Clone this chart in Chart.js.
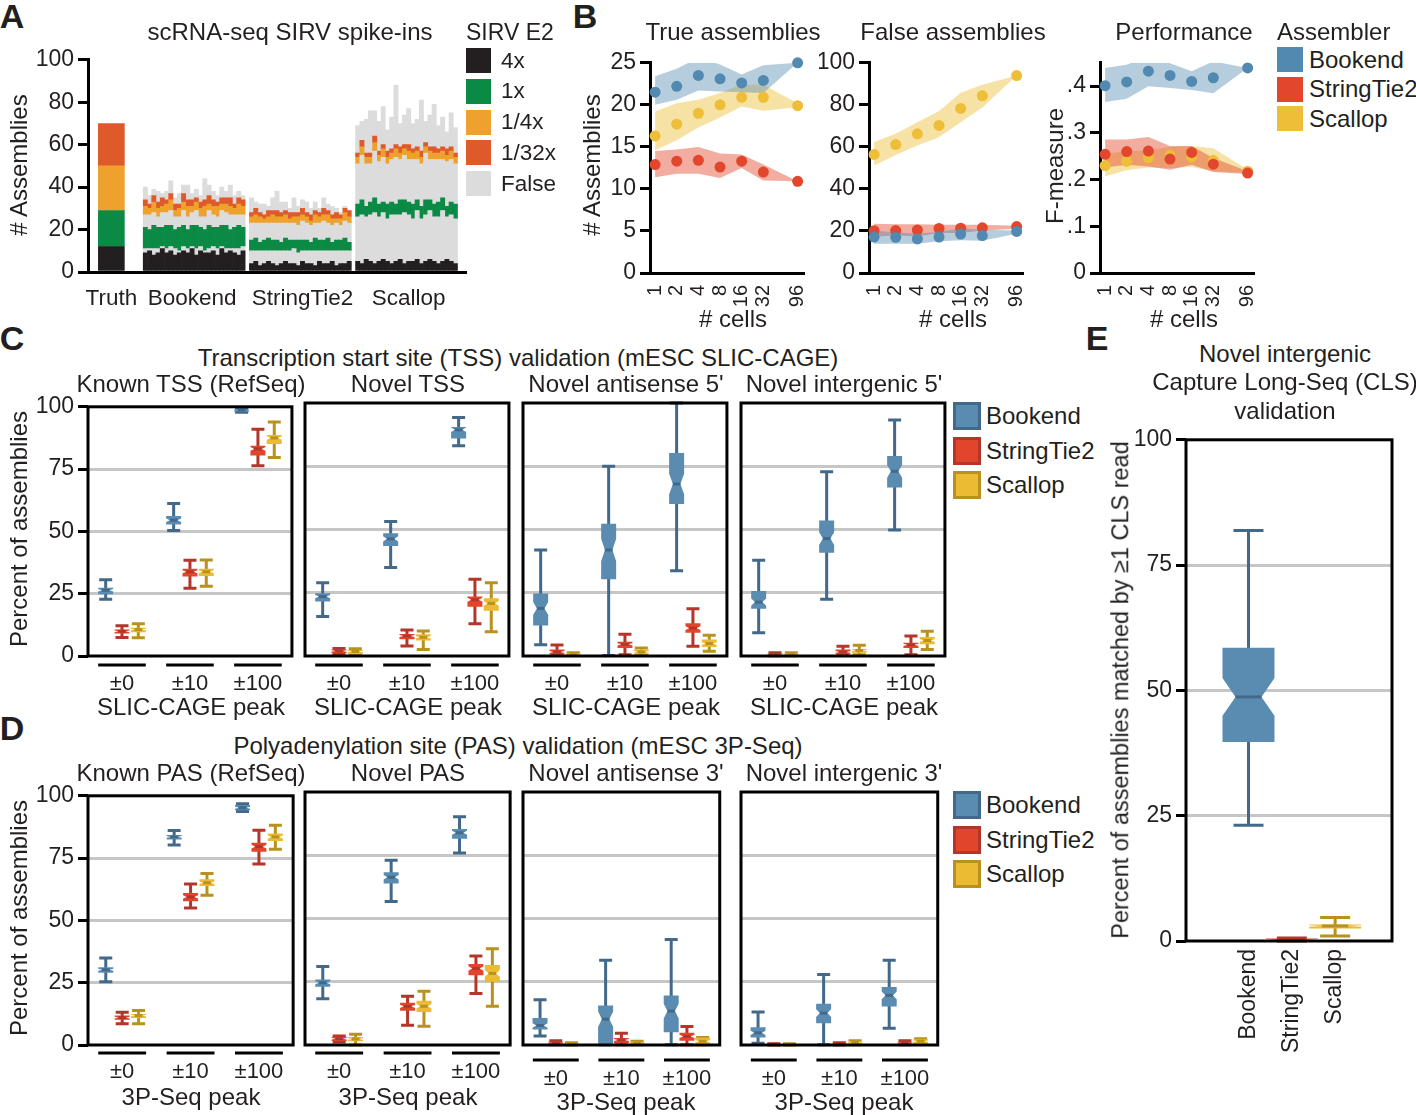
<!DOCTYPE html>
<html>
<head>
<meta charset="utf-8">
<script src="https://cdn.jsdelivr.net/npm/chart.js@4.4.1/dist/chart.umd.min.js"></script>
<style>
  body { margin: 0; background: #fff; }
  #fig { position: relative; width: 1416px; height: 1115px; overflow: hidden;
         font-family: 'Liberation Sans', Arial, sans-serif; color: #231f20; }
  #fig canvas { position: absolute; }
  .t { position: absolute; white-space: nowrap; font-size: 24px; line-height: 1; transform: translate(-50%, -50%); }
  .l { transform: translate(0, -50%); }
  .v { transform: translate(-50%, -50%) rotate(-90deg); }
  .b { font-weight: bold; }
  .sw { position: absolute; box-sizing: border-box; }
</style>
</head>
<body>
<div id="fig"></div>
<script>
// ---------- data ----------
const assemblers = ['Bookend', 'StringTie2', 'Scallop'];

// A: SIRV E2 truth set and per-cell assemblies
const sirvLevels = ['4x', '1x', '1/4x', '1/32x', 'False'];
const truthCounts = [12, 17, 21, 20];
// rows (bottom to top): 4x, False, 1x, False, 1/4x, 1/32x, False
const stackOrder = ['4x', 'False', '1x', 'False', '1/4x', '1/32x', 'False'];
const bookendCells = [
  [9,10,8,9,11,9,10,8,9,10,9,11,8,10,9,9,10,8,11,9,10,9,8,10],
  [2,1,3,2,1,2,2,3,1,2,2,1,3,2,1,2,2,3,1,2,1,2,3,2],
  [10,9,11,10,9,11,10,9,11,10,9,10,11,9,10,11,9,10,10,11,9,10,11,9],
  [6,7,6,5,7,6,7,6,5,7,6,6,7,5,6,7,6,5,7,6,7,6,5,6],
  [4,3,5,4,3,4,5,3,4,4,5,3,4,4,5,3,4,5,3,4,4,3,5,4],
  [3,2,3,3,4,2,3,3,2,4,3,3,2,3,3,4,3,2,3,3,4,2,3,3],
  [6,4,3,5,2,4,6,3,5,4,7,3,4,3,10,5,4,3,5,3,6,4,3,2]
];
const stringtieCells = [
  [4,5,3,4,5,4,3,4,5,4,4,3,5,4,4,3,5,4,4,5,3,4,4,5],
  [6,5,7,6,5,6,7,6,5,6,7,6,5,6,6,7,5,6,6,5,7,6,6,5],
  [5,6,4,5,6,5,5,4,6,5,4,6,5,5,4,6,5,5,6,4,5,5,6,4],
  [8,7,9,8,7,8,8,9,7,8,8,7,9,8,8,7,8,9,7,8,8,7,8,9],
  [3,4,3,2,3,4,3,3,4,2,3,4,3,3,2,4,3,3,4,3,2,3,4,3],
  [2,3,2,2,3,2,3,2,2,3,2,2,3,2,3,2,2,3,2,2,3,2,2,3],
  [7,3,4,5,2,6,9,5,4,2,7,3,4,5,3,4,2,5,3,4,2,1,1,0]
];
const scallopCells = [
  [5,4,6,5,4,5,6,5,4,5,6,4,5,5,6,4,5,6,5,4,5,6,5,4],
  [21,23,20,22,24,21,22,20,23,22,21,24,22,20,23,21,22,23,21,22,24,20,22,21],
  [6,7,5,6,7,6,5,7,6,5,7,6,6,7,5,6,7,5,6,7,6,5,6,7],
  [19,21,20,18,22,20,21,19,20,22,19,21,20,21,19,20,22,19,21,20,18,21,20,19],
  [3,4,3,3,4,3,4,3,3,4,3,3,4,3,4,3,3,4,3,3,4,3,4,3],
  [2,3,2,2,3,2,2,3,2,2,3,2,3,2,2,3,2,2,3,2,2,3,2,2],
  [13,9,16,20,12,14,18,10,15,28,11,14,17,12,13,24,10,15,20,11,14,8,16,12]
];

// B: mean and band per assembler (Bookend, StringTie2, Scallop)
const cellCounts = [1, 2, 4, 8, 16, 32, 96];
const trueMean = [
  [21.5, 22.2, 23.5, 23.1, 22.6, 22.9, 25.0],
  [12.9, 13.3, 13.4, 12.6, 13.3, 12.0, 10.9],
  [16.3, 17.7, 19.0, 20.0, 20.9, 20.9, 19.9]
];
const trueLow = [
  [20.0, 20.6, 21.7, 21.6, 21.5, 21.4, 25.0],
  [11.4, 11.8, 11.8, 11.3, 12.5, 11.0, 10.9],
  [14.6, 15.8, 17.3, 18.5, 19.8, 19.3, 19.7]
];
const trueHigh = [
  [23.4, 24.3, 25.6, 24.8, 23.6, 24.7, 25.0],
  [14.5, 14.7, 15.0, 14.2, 14.1, 12.9, 10.9],
  [19.2, 20.2, 20.6, 21.4, 22.4, 22.4, 20.2]
];
const falseMean = [
  [17.1, 17.0, 16.2, 17.1, 18.5, 17.8, 19.8],
  [20.1, 20.2, 20.4, 21.2, 21.3, 21.5, 22.1],
  [56.4, 61.1, 66.2, 70.2, 78.3, 84.3, 93.9]
];
const falseLow = [
  [13.9, 13.9, 13.9, 15.1, 15.6, 15.3, 18.7],
  [17.1, 17.9, 17.4, 19.0, 19.0, 20.2, 21.0],
  [51.1, 56.1, 60.7, 64.6, 71.7, 78.7, 93.9]
];
const falseHigh = [
  [20.2, 19.3, 18.7, 19.6, 21.2, 20.6, 20.2],
  [23.4, 23.2, 23.2, 23.0, 23.0, 23.0, 22.5],
  [62.3, 66.2, 71.7, 77.1, 85.7, 89.6, 93.9]
];
const perfMean = [
  [0.401, 0.409, 0.432, 0.423, 0.410, 0.418, 0.439],
  [0.254, 0.260, 0.261, 0.244, 0.258, 0.233, 0.214],
  [0.230, 0.239, 0.247, 0.252, 0.248, 0.241, 0.218]
];
const perfLow = [
  [0.366, 0.373, 0.400, 0.396, 0.392, 0.385, 0.439],
  [0.226, 0.232, 0.228, 0.221, 0.232, 0.216, 0.212],
  [0.207, 0.220, 0.226, 0.225, 0.227, 0.218, 0.214]
];
const perfHigh = [
  [0.439, 0.446, 0.465, 0.449, 0.432, 0.453, 0.439],
  [0.286, 0.286, 0.291, 0.272, 0.272, 0.246, 0.218],
  [0.256, 0.260, 0.263, 0.270, 0.272, 0.267, 0.221]
];
const trueTicks = [0, 5, 10, 15, 20, 25];
const falseTicks = [0, 20, 40, 60, 80, 100];
const perfTicks = [0, 0.1, 0.2, 0.3, 0.4];

// C, D, E: boxes [min, q1, median, q3, max] per assembler, per peak window
const peakWindows = ['±0', '±10', '±100'];
const pctTicks = [0, 25, 50, 75, 100];
const tssKnown = [
  [[22.8, 24.8, 26.4, 27.4, 30.6], [50.4, 52.8, 54.5, 56.2, 61.2], [97.8, 98.0, 98.7, 99.1, 99.2]],
  [[7.4, 9.0, 9.9, 10.6, 12.1], [27.2, 31.9, 33.8, 35.0, 38.4], [76.3, 80.5, 83.1, 84.4, 91.0]],
  [[7.3, 9.5, 10.6, 11.3, 12.9], [28.0, 32.1, 33.8, 35.0, 38.5], [79.7, 85.1, 87.5, 88.7, 93.9]]
];
const tssNovel = [
  [[15.6, 21.5, 23.5, 24.8, 29.0], [35.0, 43.5, 46.3, 48.5, 53.2], [83.1, 86.0, 89.4, 90.5, 94.3]],
  [[0.8, 1.1, 2.0, 2.6, 3.0], [4.0, 6.6, 7.9, 8.7, 10.3], [12.7, 19.5, 22.2, 23.5, 30.3]],
  [[0.4, 0.8, 1.8, 2.4, 2.9], [2.6, 6.1, 7.4, 8.6, 9.9], [9.6, 17.9, 20.8, 22.8, 29.0]]
];
const tssAntisense = [
  [[4.4, 12.1, 18.8, 24.7, 41.9], [0.2, 30.3, 41.9, 52.3, 75.0], [33.7, 60.1, 68.0, 80.2, 100]],
  [[0.5, 0.7, 1.6, 2.6, 4.3], [0.5, 3.2, 4.6, 5.6, 8.6], [3.9, 9.2, 11.0, 12.9, 18.7]],
  [[0.2, 0.3, 0.7, 1.1, 1.3], [0.3, 0.9, 1.6, 2.6, 3.2], [1.9, 3.6, 4.9, 6.5, 8.2]]
];
const tssIntergenic = [
  [[9.2, 18.7, 21.3, 25.7, 37.8], [22.4, 40.8, 46.4, 53.6, 72.8], [49.8, 66.6, 73.0, 79.1, 93.3]],
  [[0.1, 0.2, 0.6, 1.0, 1.3], [0.5, 0.9, 1.6, 2.6, 3.9], [0.5, 3.2, 4.4, 5.2, 7.9]],
  [[0.1, 0.2, 0.6, 1.0, 1.3], [0.5, 1.3, 2.2, 2.8, 4.2], [2.6, 4.6, 6.1, 7.5, 9.8]]
];
const pasKnown = [
  [[25.4, 29.0, 30.2, 31.2, 34.9], [80.3, 82.5, 83.5, 84.3, 86.1], [93.7, 94.2, 95.2, 96.3, 96.8]],
  [[8.5, 10.1, 11.0, 11.8, 13.1], [55.0, 57.7, 59.4, 61.0, 64.6], [72.6, 77.5, 79.6, 81.2, 86.2]],
  [[8.5, 10.8, 11.8, 12.4, 13.8], [60.1, 63.8, 65.1, 66.5, 68.8], [78.6, 81.9, 83.5, 84.9, 88.2]]
];
const pasNovel = [
  [[18.3, 23.0, 24.6, 25.9, 31.0], [56.7, 63.8, 66.3, 68.3, 73.0], [75.9, 81.5, 83.9, 85.4, 90.2]],
  [[1.2, 1.6, 2.5, 3.3, 3.6], [7.8, 13.5, 15.3, 16.7, 19.3], [20.4, 27.6, 30.2, 32.0, 35.2]],
  [[0.0, 1.5, 2.4, 3.2, 4.2], [7.4, 13.0, 15.3, 17.5, 21.2], [15.3, 25.0, 28.3, 31.6, 38.0]]
];
const pasAntisense = [
  [[3.6, 6.1, 7.7, 10.7, 17.9], [0.1, 0.5, 10.2, 15.6, 33.5], [0.1, 5.0, 13.4, 19.6, 41.7]],
  [[0.1, 0.3, 0.8, 1.3, 1.7], [0.1, 0.8, 2.0, 2.8, 4.6], [0.1, 1.7, 3.4, 4.8, 7.3]],
  [[0.0, 0.1, 0.4, 0.8, 0.9], [0.1, 0.3, 0.8, 1.3, 1.5], [0.1, 0.4, 1.5, 2.9, 3.0]]
];
const pasIntergenic = [
  [[0.7, 3.0, 4.8, 7.0, 13.0], [0.1, 8.6, 12.6, 16.3, 27.9], [6.6, 15.2, 19.6, 22.9, 33.5]],
  [[0.0, 0.1, 0.3, 0.4, 0.5], [0.0, 0.1, 0.4, 0.8, 0.9], [0.1, 0.3, 0.8, 1.3, 1.7]],
  [[0.0, 0.1, 0.3, 0.4, 0.5], [0.1, 0.4, 1.1, 1.6, 1.7], [0.3, 0.5, 1.5, 2.3, 2.5]]
];
const clsIntergenic = [[23.1, 39.7, 48.7, 58.5, 81.9], [0.0, 0.1, 0.3, 0.5, 0.6], [1.0, 2.5, 3.0, 3.3, 4.7]];

// ---------- styles ----------
const sirvColors = { '4x': '#231f20', '1x': '#0a8a45', '1/4x': '#eea12c', '1/32x': '#df5a2a', 'False': '#dcdcdc' };
const lineColors = ['#5189b0', '#e2462d', '#eebe38'];
const bandColors = ['rgba(81,137,176,0.42)', 'rgba(226,70,45,0.45)', 'rgba(238,190,56,0.45)'];
const boxFill = ['#5a8cb1', '#e1462d', '#ebbb33'];
const boxLine = ['#43698a', '#b3362a', '#b8911f'];

Chart.defaults.font.family = "'Liberation Sans', Arial, sans-serif";
Chart.defaults.font.size = 23;
Chart.defaults.color = '#231f20';
Chart.defaults.animation = false;
Chart.defaults.plugins.legend.display = false;
Chart.defaults.plugins.tooltip.enabled = false;

const fig = document.getElementById('fig');

// canvas so that the chart area lands exactly on plot
function place(plot, pad) {
  const c = document.createElement('canvas');
  const w = pad.l + plot.r - plot.l + pad.r, h = pad.t + plot.b - plot.t + pad.b;
  c.width = w; c.height = h;
  c.style.left = (plot.l - pad.l) + 'px';
  c.style.top = (plot.t - pad.t) + 'px';
  fig.appendChild(c);
  return c;
}
function baseOpts(pad) {
  return { responsive: false, layout: { padding: { top: pad.t, right: pad.r, left: 0, bottom: 0 } } };
}
const blackBorder = { display: true, color: '#000', width: 3 };
const tickGrid = { drawOnChartArea: false, drawTicks: true, tickLength: 10, color: '#000', lineWidth: 3 };

// ---------- A ----------
const slotCount = 89, truthSlot = 5;
const groupStarts = [13, 38, 63];
const groupLabelSlots = [24, 50, 75];
const labelsA = Array.from({ length: slotCount }, () => '');
labelsA[truthSlot] = 'Truth';
assemblers.forEach((g, i) => { labelsA[groupLabelSlots[i]] = g; });
const cellGroups = [bookendCells, stringtieCells, scallopCells];

const datasetsA = truthCounts.map((v, k) => ({
  data: labelsA.map((_, i) => (i === truthSlot ? v : null)),
  backgroundColor: sirvColors[sirvLevels[k]],
  barThickness: 26
})).concat(stackOrder.map((lvl, r) => {
  const data = labelsA.map(() => null);
  cellGroups.forEach((g, gi) => g[r].forEach((v, j) => { data[groupStarts[gi] + j] = v; }));
  return { data, backgroundColor: sirvColors[lvl], barPercentage: 1, categoryPercentage: 1 };
}));

(function () {
  const plot = { l: 88, t: 56, r: 466, b: 272 }, pad = { l: 88, t: 14, r: 4, b: 46 };
  new Chart(place(plot, pad), {
    type: 'bar',
    data: { labels: labelsA, datasets: datasetsA },
    options: Object.assign(baseOpts(pad), {
      scales: {
        x: { stacked: true, grid: { display: false }, border: blackBorder,
             ticks: { autoSkip: false, maxRotation: 0, padding: 5, font: { size: 22.5 } },
             afterFit: ax => { ax.height = pad.b; } },
        y: { stacked: true, min: 0, max: 100, ticks: { stepSize: 20, padding: 4 },
             grid: tickGrid, border: blackBorder, afterFit: ax => { ax.width = pad.l; } }
      }
    })
  });
})();

// ---------- B ----------
function cellChart(plot, pad, means, lows, highs, yMax, yTicks, fmt) {
  const xy = arr => cellCounts.map((c, i) => ({ x: c, y: arr[i] }));
  const pts = means.map((m, a) => ({
    data: xy(m), showLine: false, pointRadius: 5.5, pointBackgroundColor: lineColors[a],
    pointBorderWidth: 0, clip: false
  }));
  const bands = [];
  lows.forEach((lo, a) => {
    bands.push({ data: xy(highs[a]), borderWidth: 0, pointRadius: 0, fill: false, clip: false });
    bands.push({ data: xy(lo), borderWidth: 0, pointRadius: 0, fill: '-1', backgroundColor: bandColors[a], clip: false });
  });
  new Chart(place(plot, pad), {
    type: 'line',
    data: { datasets: pts.concat(bands) },
    options: Object.assign(baseOpts(pad), {
      scales: {
        x: { type: 'logarithmic', min: 0.85, max: 120,
             afterBuildTicks: ax => { ax.ticks = cellCounts.map(v => ({ value: v })); },
             ticks: { callback: v => String(v), autoSkip: false, minRotation: 90, maxRotation: 90, font: { size: 20 }, padding: 4 },
             grid: { display: false }, border: blackBorder, afterFit: ax => { ax.height = pad.b; } },
        y: { min: 0, max: yMax,
             afterBuildTicks: ax => { ax.ticks = yTicks.map(v => ({ value: v })); },
             ticks: { callback: fmt, padding: 4 },
             grid: tickGrid, border: blackBorder, afterFit: ax => { ax.width = pad.l; } }
      }
    })
  });
}
const plain = v => String(v);
cellChart({ l: 650, t: 59, r: 818, b: 273 }, { l: 50, t: 14, r: 8, b: 40 }, trueMean, trueLow, trueHigh, 25, trueTicks, plain);
cellChart({ l: 869, t: 59, r: 1037, b: 273 }, { l: 50, t: 14, r: 8, b: 40 }, falseMean, falseLow, falseHigh, 100, falseTicks, plain);
cellChart({ l: 1100, t: 59, r: 1268, b: 273 }, { l: 40, t: 14, r: 8, b: 40 }, perfMean, perfLow, perfHigh, 0.45, perfTicks,
  v => (v === 0 ? '0' : v.toFixed(1).replace('0.', '.')));

// ---------- box plots ----------
const boxPlugin = {
  id: 'boxes',
  afterDatasetsDraw(chart, args, opt) {
    const ctx = chart.ctx, y = chart.scales.y;
    chart.data.datasets.forEach((ds, di) => {
      chart.getDatasetMeta(di).data.forEach((el, i) => {
        const s = ds.stats[i];
        const [mn, q1, md, q3, mx] = s.map(v => y.getPixelForValue(v));
        const notch = (s[3] - s[1]) * 0.2;
        const nHi = y.getPixelForValue(Math.min(s[2] + notch, s[3]));
        const nLo = y.getPixelForValue(Math.max(s[2] - notch, s[1]));
        const x = el.x, hw = opt.boxW / 2, cw = opt.capW / 2, nw = hw * 0.5;
        ctx.save();
        ctx.strokeStyle = ds.lineColor;
        ctx.lineWidth = 3;
        ctx.beginPath();
        ctx.moveTo(x, mx); ctx.lineTo(x, mn);
        ctx.moveTo(x - cw, mx); ctx.lineTo(x + cw, mx);
        ctx.moveTo(x - cw, mn); ctx.lineTo(x + cw, mn);
        ctx.stroke();
        ctx.fillStyle = ds.fillColor;
        ctx.beginPath();
        ctx.moveTo(x - hw, q3); ctx.lineTo(x + hw, q3); ctx.lineTo(x + hw, nHi);
        ctx.lineTo(x + nw, md); ctx.lineTo(x + hw, nLo); ctx.lineTo(x + hw, q1);
        ctx.lineTo(x - hw, q1); ctx.lineTo(x - hw, nLo); ctx.lineTo(x - nw, md);
        ctx.lineTo(x - hw, nHi); ctx.closePath();
        ctx.fill();
        ctx.beginPath(); ctx.moveTo(x - nw, md); ctx.lineTo(x + nw, md); ctx.stroke();
        ctx.restore();
      });
    });
  },
  afterDraw(chart, args, opt) {
    const { ctx, chartArea: a } = chart;
    ctx.save();
    ctx.strokeStyle = '#000';
    ctx.lineWidth = 3;
    ctx.strokeRect(a.left, a.top, a.right - a.left, a.bottom - a.top);
    if (opt.bracket) {
      const xs = chart.scales.x;
      const half = (a.right - a.left) / xs.ticks.length * 0.35;
      xs.ticks.forEach((t, i) => {
        const px = xs.getPixelForTick(i);
        ctx.beginPath();
        ctx.moveTo(px - half, a.bottom + opt.drop);
        ctx.lineTo(px + half, a.bottom + opt.drop);
        ctx.stroke();
      });
    }
    ctx.restore();
  }
};
const gridColor = c => (c.tick && [25, 50, 75].includes(c.tick.value) ? '#c6c6c6' : 'rgba(0,0,0,0)');
function pctAxis(pad, showY) {
  return { min: 0, max: 100,
    afterBuildTicks: ax => { ax.ticks = pctTicks.map(v => ({ value: v })); },
    ticks: { display: showY, padding: 4 },
    grid: { color: gridColor, lineWidth: 3, drawTicks: showY, tickLength: 10, tickColor: '#000' },
    border: { display: false }, afterFit: ax => { ax.width = pad.l; } };
}

function windowChart(plot, stats, showY, drop, labelPad) {
  const pad = { l: showY ? 88 : 4, t: 14, r: 4, b: 48 };
  new Chart(place(plot, pad), {
    type: 'bar',
    data: {
      labels: peakWindows,
      datasets: stats.map((rows, a) => ({
        data: rows.map(s => [s[1], s[3]]), stats: rows,
        fillColor: boxFill[a], lineColor: boxLine[a],
        backgroundColor: 'rgba(0,0,0,0)', categoryPercentage: 0.72, barPercentage: 0.9
      }))
    },
    options: Object.assign(baseOpts(pad), {
      scales: {
        x: { offset: true, grid: { display: false, drawTicks: false }, border: { display: false },
             ticks: { padding: labelPad, font: { size: 22 } }, afterFit: ax => { ax.height = pad.b; } },
        y: pctAxis(pad, showY)
      },
      plugins: { boxes: { boxW: 15, capW: 13, bracket: true, drop: drop } }
    }),
    plugins: [boxPlugin]
  });
}
const frameLefts = [88, 305, 523, 741];
const frameW = 206;
[tssKnown, tssNovel, tssAntisense, tssIntergenic].forEach((st, i) =>
  windowChart({ l: frameLefts[i], t: 403, r: frameLefts[i] + frameW, b: 656 }, st, i === 0, 9, 15));
[pasKnown, pasNovel, pasAntisense, pasIntergenic].forEach((st, i) =>
  windowChart({ l: frameLefts[i], t: 792, r: frameLefts[i] + frameW, b: 1045 }, st, i === 0, i < 2 ? 8 : 15, i < 2 ? 14 : 21));

// E
(function () {
  const plot = { l: 1186, t: 436, r: 1392, b: 941 }, pad = { l: 70, t: 14, r: 4, b: 130 };
  new Chart(place(plot, pad), {
    type: 'bar',
    data: {
      datasets: clsIntergenic.map((s, a) => ({
        data: [{ x: a, y: [s[1], s[3]] }], stats: [s],
        fillColor: boxFill[a], lineColor: boxLine[a],
        backgroundColor: 'rgba(0,0,0,0)', grouped: false, barThickness: 52
      }))
    },
    options: Object.assign(baseOpts(pad), {
      scales: {
        x: { type: 'linear', min: -0.65, max: 2.52,
             afterBuildTicks: ax => { ax.ticks = assemblers.map((_, i) => ({ value: i })); },
             ticks: { callback: v => assemblers[v], autoSkip: false, minRotation: 90, maxRotation: 90, padding: 8 },
             grid: { display: false, drawTicks: false }, border: { display: false },
             afterFit: ax => { ax.height = pad.b; } },
        y: pctAxis(pad, true)
      },
      plugins: { boxes: { boxW: 52, capW: 30, bracket: false } }
    }),
    plugins: [boxPlugin]
  });
})();

// ---------- text and legends ----------
function addText(str, x, y, cls, size) {
  const d = document.createElement('div');
  d.className = 't' + (cls ? ' ' + cls : '');
  d.textContent = str;
  d.style.left = x + 'px';
  d.style.top = y + 'px';
  if (size) d.style.fontSize = size + 'px';
  fig.appendChild(d);
}
function addSwatch(x, y, w, h, fill, border) {
  const d = document.createElement('div');
  d.className = 'sw';
  Object.assign(d.style, { left: x + 'px', top: y + 'px', width: w + 'px', height: h + 'px', background: fill });
  if (border) d.style.border = '3px solid ' + border;
  fig.appendChild(d);
}

addText('A', 12, 16, 'b', 34);
addText('B', 585, 16, 'b', 34);
addText('C', 12, 338, 'b', 34);
addText('D', 12, 728, 'b', 34);
addText('E', 1097, 338, 'b', 34);

addText('scRNA-seq SIRV spike-ins', 290, 32);
addText('# Assemblies', 19, 165, 'v');
addText('SIRV E2', 466, 32, 'l', 23);
sirvLevels.forEach((lvl, i) => {
  const top = 48 + i * 30.8;
  addSwatch(466, top, 25, 25, sirvColors[lvl]);
  addText(lvl, 501, top + 12.5, 'l', 22.5);
});

addText('True assemblies', 733, 32);
addText('False assemblies', 953, 32);
addText('Performance', 1184, 32);
addText('# Assemblies', 592, 165, 'v');
addText('F-measure', 1055, 166, 'v');
[733, 953, 1184].forEach(x => addText('# cells', x, 319));
addText('Assembler', 1277, 32, 'l');
assemblers.forEach((a, i) => {
  const top = 47 + i * 29.5;
  addSwatch(1277, top, 26, 25, lineColors[i]);
  addText(a, 1309, top + 12.5, 'l');
});

const frameCenters = frameLefts.map(l => l + frameW / 2);
addText('Transcription start site (TSS) validation (mESC SLIC-CAGE)', 518, 358);
['Known TSS (RefSeq)', 'Novel TSS', "Novel antisense 5'", "Novel intergenic 5'"].forEach((s, i) => addText(s, frameCenters[i], 384));
frameCenters.forEach(x => addText('SLIC-CAGE peak', x, 707));
addText('Percent of assemblies', 19, 529, 'v');

addText('Polyadenylation site (PAS) validation (mESC 3P-Seq)', 518, 746);
['Known PAS (RefSeq)', 'Novel PAS', "Novel antisense 3'", "Novel intergenic 3'"].forEach((s, i) => addText(s, frameCenters[i], 773));
frameCenters.forEach((x, i) => addText('3P-Seq peak', x, i < 2 ? 1097 : 1102));
addText('Percent of assemblies', 19, 918, 'v');

[402, 791].forEach(y0 => assemblers.forEach((a, i) => {
  const top = y0 + i * 34.5;
  addSwatch(953, top, 28, 28, boxFill[i], boxLine[i]);
  addText(a, 986, top + 14, 'l');
}));

addText('Novel intergenic', 1285, 354);
addText('Capture Long-Seq (CLS)', 1285, 382);
addText('validation', 1285, 411);
addText('Percent of assemblies matched by ≥1 CLS read', 1121, 690, 'v', 23.5);
</script>
</body>
</html>
